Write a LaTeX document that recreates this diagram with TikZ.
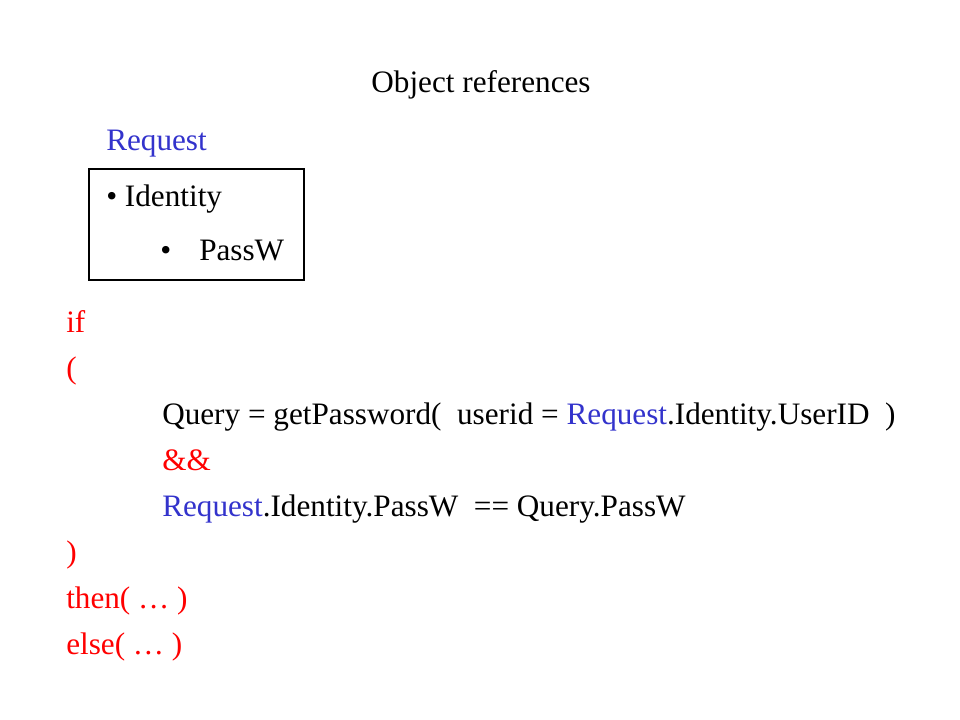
\documentclass[tikz,border=0pt]{standalone}
\usepackage{fontspec}
\setmainfont{Liberation Serif}
\definecolor{kwred}{RGB}{255,0,0}
\definecolor{objblue}{RGB}{51,51,204}
\tikzset{
  txt/.style={anchor=base west, inner sep=0pt, font=\fontsize{23.4}{28}\selectfont},
  boxstyle/.style={draw=black, line width=0.9pt}
}
\begin{document}
\begin{tikzpicture}[x=0.75pt,y=-0.75pt]
\useasboundingbox[fill=white] (0,0) rectangle (960,720);
\node[txt, anchor=base] (title) at (481,93) {Object references};
\node[txt, text=objblue] (req) at (106,151) {Request};
\draw[boxstyle] (89,169) rectangle (304,280);
\node[txt] (ident) at (106,207) {\textbullet\ Identity};
\node[txt] (bul2) at (160,261) {\textbullet};
\node[txt] (passw) at (199,261) {PassW};
\node[txt, text=kwred] (if) at (66,332) {if};
\node[txt, text=kwred] (lp) at (66,378) {(};
\node[txt] (q) at (162,424) {Query = getPassword(\ \ userid = \textcolor{objblue}{Request}.Identity.UserID\ \ )};
\node[txt, text=kwred] (and) at (162,470) {\&\&};
\node[txt] (cmp) at (162,516) {\textcolor{objblue}{Request}.Identity.PassW\ \ == Query.PassW};
\node[txt, text=kwred] (rp) at (66,562) {)};
\node[txt, text=kwred] (then) at (66,608) {then(\ … )};
\node[txt, text=kwred] (else) at (66,654) {else(\ … )};
\end{tikzpicture}
\end{document}
